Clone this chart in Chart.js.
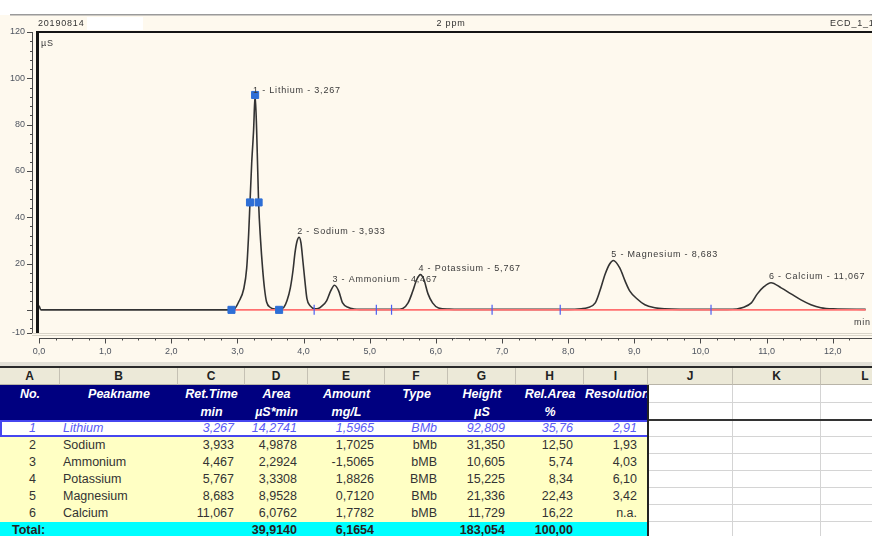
<!DOCTYPE html>
<html>
<head>
<meta charset="utf-8">
<title>2 ppm</title>
<script src="https://cdn.jsdelivr.net/npm/chart.js@4.4.1/dist/chart.umd.min.js"></script>
<style>
  html, body { margin: 0; padding: 0; background: #fff; }
  #page { position: relative; width: 872px; height: 536px; overflow: hidden; font-family: "Liberation Sans", Arial, sans-serif; }
  #chrom { position: absolute; left: 0; top: 0; }
  #sheet { position: absolute; left: 0; top: 362px; width: 872px; height: 174px; background: #fff; overflow: hidden; }
  .c { position: absolute; box-sizing: border-box; white-space: pre; overflow: hidden; font-size: 12.5px; line-height: 17px; color: #2a2a2a; }
</style>
</head>
<body>
<div id="page">
  <canvas id="chrom" width="872" height="362"></canvas>
  <div id="sheet"></div>
</div>
<script>
// trace: time (min) / signal (µS)
const traceTimes = [
  0, 0.03, 2.85, 2.91, 2.96, 3.02, 3.095, 3.14, 3.17, 3.19, 3.215, 3.245, 3.267,
  3.29, 3.32, 3.35, 3.38, 3.41, 3.44, 3.50, 3.56, 3.63,
  3.70, 3.75, 3.80, 3.84, 3.87, 3.90, 3.933, 3.96, 3.99, 4.02, 4.05, 4.10, 4.17,
  4.22, 4.28, 4.35, 4.41, 4.467, 4.53, 4.59, 4.68, 4.76, 4.85,
  5.40, 5.50, 5.58, 5.65, 5.71, 5.767, 5.82, 5.88, 5.95, 6.04, 6.20, 6.35,
  8.00, 8.20, 8.29, 8.41, 8.48, 8.56, 8.63, 8.683, 8.78, 8.86, 8.93, 9.04, 9.16, 9.31, 9.46, 9.70,
  10.40, 10.55, 10.63, 10.77, 10.86, 10.96, 11.067, 11.22, 11.37, 11.52, 11.67, 11.82, 12.01, 12.50
];
const traceSignal = [
  1.8, 0, 0, 0, 0.5, 3.5, 9, 18, 33, 46.4, 63, 78, 92.8,
  78, 46.4, 30, 18, 9, 3.5, 1, 0.4, 0.2,
  1, 4, 9.5, 17, 24.6, 29.5, 31.35, 29, 21, 12.5, 5, 1.7, 0.5,
  0.6, 1.7, 4, 8.2, 10.6, 8.2, 3, 1, 0.4, 0.2,
  0.2, 0.6, 3, 8, 13, 15.2, 13, 7, 3, 0.8, 0.3, 0.2,
  0.2, 0.5, 0.9, 3, 8.2, 15.5, 19.9, 21.3, 18.1, 12.5, 8.2, 4.8, 2.2, 0.9, 0.4, 0.2,
  0.2, 0.4, 0.9, 3, 6.9, 10, 11.7, 9.5, 6.9, 4.3, 2.2, 0.9, 0.4, 0.2
];

// red baseline, blue markers on peak 1, peak delimiters
const baselineTimes = [2.91, 12.5];
const baselineSignal = [0, 0];
const markerTimes = [2.91, 3.19, 3.267, 3.32, 3.63];
const markerSignal = [0, 46.4, 92.8, 46.4, 0];
const delimiterTimes = [4.16, 5.10, 5.33, 6.85, 7.88, 10.16];

// peak table
const peakNo = [1, 2, 3, 4, 5, 6];
const peakNames = ['Lithium', 'Sodium', 'Ammonium', 'Potassium', 'Magnesium', 'Calcium'];
const retTimes = [3.267, 3.933, 4.467, 5.767, 8.683, 11.067];
const areas = [14.2741, 4.9878, 2.2924, 3.3308, 8.9528, 6.0762];
const amounts = [1.5965, 1.7025, -1.5065, 1.8826, 0.7120, 1.7782];
const peakTypes = ['BMb', 'bMb', 'bMB', 'BMB', 'BMb', 'bMB'];
const heights = [92.809, 31.350, 10.605, 15.225, 21.336, 11.729];
const relAreas = [35.76, 12.50, 5.74, 8.34, 22.43, 16.22];
const resolutions = [2.91, 1.93, 4.03, 6.10, 3.42, null];
const totalArea = 39.9140;
const totalAmount = 6.1654;
const totalHeight = 183.054;
const totalRelArea = 100.00;

// axes
const xTickValues = [0, 1, 2, 3, 4, 5, 6, 7, 8, 9, 10, 11, 12];
const yTickValues = [-10, 0, 20, 40, 60, 80, 100, 120];
const yTickLabels = ['-10', '', '20', '40', '60', '80', '100', '120'];

const fmt = (v, d) => v.toFixed(d).replace('.', ',');
const pts = (xs, ys) => xs.map((t, i) => ({ x: t, y: ys[i] }));
const FONT = '9px "Liberation Sans", Arial, sans-serif';

const chromDecor = {
  id: 'chromDecor',
  beforeDraw(chart) {
    const ctx = chart.ctx, w = chart.width, h = chart.height;
    ctx.save();
    ctx.fillStyle = '#fff';
    ctx.fillRect(0, 0, w, 15);
    ctx.fillStyle = '#fef9ee';
    ctx.fillRect(0, 15, w, h - 15);
    ctx.fillStyle = '#9a9a9a';
    ctx.fillRect(10, 14, w - 10, 1.5);
    ctx.fillStyle = '#fff';
    ctx.fillRect(87, 17, 56, 13);
    ctx.font = FONT;
    ctx.letterSpacing = '0.8px';
    ctx.fillStyle = '#333';
    ctx.textBaseline = 'middle';
    ctx.textAlign = 'left';
    ctx.fillText('20190814', 38, 24);
    ctx.textAlign = 'center';
    ctx.fillText('2 ppm', 451, 24);
    ctx.textAlign = 'left';
    ctx.fillText('ECD_1_1', 830, 24);
    ctx.restore();
  },
  afterDraw(chart) {
    const { ctx, chartArea: ca, scales: { x, y } } = chart;
    const w = chart.width;
    ctx.save();
    // plot frame (top + left)
    ctx.fillStyle = '#151515';
    ctx.fillRect(36, ca.top - 1, w - 36, 2);
    ctx.fillRect(36, ca.top - 1, 3, ca.bottom - ca.top + 1);
    ctx.fillStyle = '#d9d5c9';
    ctx.fillRect(32, ca.bottom, w - 32, 1);
    ctx.fillRect(32, ca.bottom + 2, w - 32, 1);

    // y axis with ticks
    ctx.strokeStyle = '#4a4a4a';
    ctx.lineWidth = 1;
    ctx.beginPath();
    ctx.moveTo(32.5, y.getPixelForValue(120));
    ctx.lineTo(32.5, y.getPixelForValue(-10));
    yTickValues.forEach(v => {
      const py = Math.round(y.getPixelForValue(v)) + 0.5;
      ctx.moveTo(27, py); ctx.lineTo(32, py);
    });
    for (let v = -8; v < 120; v += 4) {
      if (v % 20 === 0) continue;
      const py = Math.round(y.getPixelForValue(v)) + 0.5;
      ctx.moveTo(30, py); ctx.lineTo(32, py);
    }
    // x axis with ticks
    const ay = ca.bottom + 5.5;
    ctx.moveTo(x.getPixelForValue(0), ay);
    ctx.lineTo(w, ay);
    xTickValues.forEach(v => {
      const px = Math.round(x.getPixelForValue(v)) + 0.5;
      ctx.moveTo(px, ay); ctx.lineTo(px, ay + 5);
    });
    for (let k = 1; k < 50; k++) {
      if (k % 4 === 0) continue;
      const px = Math.round(x.getPixelForValue(k * 0.25)) + 0.5;
      ctx.moveTo(px, ay); ctx.lineTo(px, ay + 2);
    }
    ctx.stroke();

    // axis units and peak labels
    ctx.font = FONT;
    ctx.letterSpacing = '0.8px';
    ctx.fillStyle = '#3a3a3a';
    ctx.textBaseline = 'middle';
    ctx.textAlign = 'left';
    ctx.fillText('µS', 41, 44);
    ctx.fillText('min', 854, ca.bottom - 10);
    peakNames.forEach((n, i) => {
      const px = x.getPixelForValue(retTimes[i]) - 2;
      const py = y.getPixelForValue(heights[i]) - (i === 0 ? 4 : 6);
      ctx.fillText(`${peakNo[i]} - ${n} - ${fmt(retTimes[i], 3)}`, px, py);
    });
    ctx.restore();
  }
};

new Chart(document.getElementById('chrom'), {
  type: 'line',
  data: {
    datasets: [
      {
        label: 'markers',
        data: pts(markerTimes, markerSignal),
        showLine: false,
        pointStyle: 'rect',
        pointRadius: 5,
        backgroundColor: '#2e6fd6',
        borderColor: '#2e6fd6',
        order: 0
      },
      {
        label: 'delimiters',
        data: delimiterTimes.map(t => ({ x: t, y: 0 })),
        showLine: false,
        pointStyle: 'line',
        rotation: 90,
        pointRadius: 5,
        borderColor: '#4b5ef2',
        borderWidth: 1.2,
        order: 1
      },
      {
        label: 'baseline',
        data: pts(baselineTimes, baselineSignal),
        borderColor: '#ff7070',
        borderWidth: 1.6,
        pointRadius: 0,
        order: 2
      },
      {
        label: 'ECD_1',
        data: pts(traceTimes, traceSignal),
        borderColor: '#333',
        borderWidth: 1.6,
        pointRadius: 0,
        cubicInterpolationMode: 'monotone',
        order: 3
      }
    ]
  },
  options: {
    responsive: false,
    animation: false,
    layout: { padding: { top: 32, right: 0, left: 0, bottom: 0 } },
    plugins: { legend: { display: false }, tooltip: { enabled: false } },
    scales: {
      x: {
        type: 'linear',
        min: 0,
        max: 12.5,
        grid: { display: false },
        border: { display: false },
        ticks: {
          color: '#4f5560',
          font: { size: 9, family: '"Liberation Sans", Arial, sans-serif' },
          padding: 5,
          autoSkip: false,
          maxRotation: 0,
          callback: (v, i) => fmt(xTickValues[i], 1)
        },
        afterBuildTicks: s => { s.ticks = xTickValues.map(v => ({ value: v })); },
        afterFit: s => { s.height = 29; }
      },
      y: {
        type: 'linear',
        min: -10,
        max: 120,
        grid: { display: false },
        border: { display: false },
        ticks: {
          color: '#4f5560',
          font: { size: 9, family: '"Liberation Sans", Arial, sans-serif' },
          padding: 6,
          callback: (v, i) => yTickLabels[i]
        },
        afterBuildTicks: s => { s.ticks = yTickValues.map(v => ({ value: v })); },
        afterFit: s => { s.width = 39; }
      }
    }
  },
  plugins: [chromDecor]
});

// ---- spreadsheet below the chromatogram ----
const colLefts = [0, 60, 178, 245, 308, 385, 448, 516, 584, 648, 733, 821, 910];
const colLetters = ['A', 'B', 'C', 'D', 'E', 'F', 'G', 'H', 'I', 'J', 'K', 'L'];
const headTop = ['No.', 'Peakname', 'Ret.Time', 'Area', 'Amount', 'Type', 'Height', 'Rel.Area', 'Resolution'];
const headSub = ['', '', 'min', 'µS*min', 'mg/L', '', 'µS', '%', ''];
const colAlign = ['center', 'left', 'right', 'right', 'right', 'right', 'right', 'right', 'right'];

const sheet = document.getElementById('sheet');
function box(left, top, w, h, css, text) {
  const d = document.createElement('div');
  d.className = 'c';
  d.style.left = left + 'px';
  d.style.top = top + 'px';
  d.style.width = w + 'px';
  d.style.height = h + 'px';
  Object.assign(d.style, css || {});
  if (text !== undefined) d.textContent = text;
  sheet.appendChild(d);
  return d;
}
function cell(col, top, h, css, text) {
  return box(colLefts[col], top, colLefts[col + 1] - colLefts[col], h, css, text);
}
function pad(col) {
  if (colAlign[col] === 'left') return { paddingLeft: '3px' };
  if (colAlign[col] === 'right') return { paddingRight: '11px' };
  return { paddingLeft: '5px' };
}

box(0, 0, 872, 4, { background: '#e2dfd6' });
box(0, 4, 872, 2, { background: '#2a2a2a' });

// column letters
colLetters.forEach((l, c) => cell(c, 6, 17, {
  background: '#ece9d8', borderRight: '1px solid #c5c1b4', borderBottom: '1px solid #b8b4a8',
  fontWeight: 'bold', fontSize: '12px', textAlign: 'center', color: '#222'
}, l));

// navy header
headTop.forEach((t, c) => cell(c, 23, 35, {
  background: '#000080', color: '#fff', fontWeight: 'bold', fontStyle: 'italic',
  lineHeight: '18px', textAlign: c === 8 ? 'left' : 'center', paddingLeft: c === 8 ? '1px' : '0'
}, headSub[c] ? `${t}\n${headSub[c]}` : t));

// empty grid in J..L
const gridCss = { background: '#fff', borderRight: '1px solid #d4d4d4', borderBottom: '1px solid #d4d4d4' };
for (let c = 9; c < 12; c++) {
  cell(c, 23, 17.5, gridCss);
  cell(c, 40.5, 17.5, gridCss);
  for (let r = 0; r < 7; r++) cell(c, 58 + 17 * r, 17, gridCss);
}

// peak rows
peakNames.forEach((n, i) => {
  const top = 58 + 17 * i;
  const vals = [
    String(peakNo[i]), n, fmt(retTimes[i], 3), fmt(areas[i], 4), fmt(amounts[i], 4),
    peakTypes[i], fmt(heights[i], 3), fmt(relAreas[i], 2),
    resolutions[i] === null ? 'n.a.' : fmt(resolutions[i], 2)
  ];
  const rowCss = i === 0
    ? { background: '#fff', color: '#5b5bf5', fontStyle: 'italic' }
    : { background: '#ffffc4', color: '#333' };
  vals.forEach((v, c) => cell(c, top, 17, Object.assign({ textAlign: colAlign[c] }, pad(c), rowCss), v));
});
// selection frame on the first peak row
box(0, 58, 649, 17, { border: '2px solid #4646f0', background: 'transparent' });

// totals row
const totalVals = ['Total:', '', '', fmt(totalArea, 4), fmt(totalAmount, 4), '', fmt(totalHeight, 3), fmt(totalRelArea, 2), ''];
totalVals.forEach((v, c) => cell(c, 160, 17, Object.assign(
  { background: '#00ffff', color: '#222', fontWeight: 'bold', textAlign: c === 0 ? 'left' : colAlign[c], overflow: 'visible' },
  c === 0 ? { paddingLeft: '12px' } : pad(c)
), v));

// heavy lines around the table block
box(647, 23, 2, 151, { background: '#222' });
box(649, 57, 223, 2, { background: '#333' });
</script>
</body>
</html>
